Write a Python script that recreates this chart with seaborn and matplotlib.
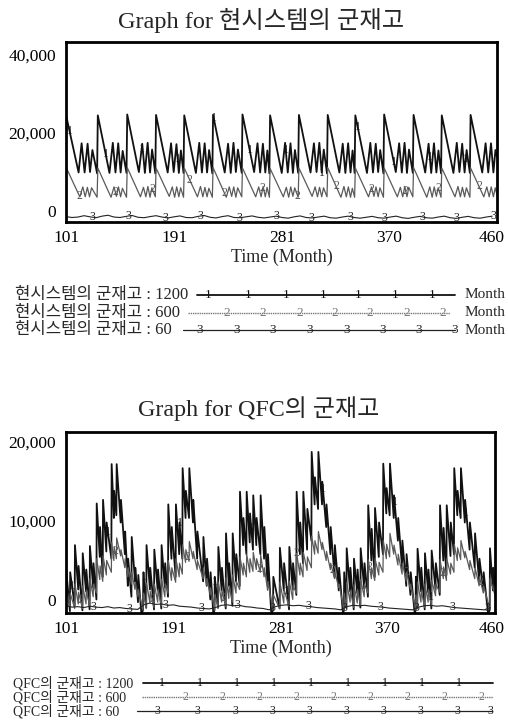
import numpy as np
import matplotlib
matplotlib.use("Agg")
import matplotlib.pyplot as plt
import seaborn as sns
from matplotlib.transforms import ScaledTranslation

# ------------------------------------------------------------------ data
TOP_TITLE = "Graph for 현시스템의 군재고"
BOT_TITLE = "Graph for QFC의 군재고"
X_LABEL = "Time (Month)"
X_TICKS = [101, 191, 281, 370, 460]
TOP_YTICKS = [0, 20000, 40000]
TOP_YLABELS = ["0", "20,000", "40,000"]
BOT_YTICKS = [0, 10000, 20000]
BOT_YLABELS = ["0", "10,000", "20,000"]
TOP_LEGEND = ["현시스템의 군재고 : 1200", "현시스템의 군재고 : 600", "현시스템의 군재고 : 60"]
BOT_LEGEND = ["QFC의 군재고 : 1200", "QFC의 군재고 : 600", "QFC의 군재고 : 60"]
UNIT = "Month"

# top chart, run 1 (vertices of the saw-tooth line)
TOP_S1_T = [101, 111.5, 114, 116.5, 119, 121, 123, 126.9,
            127.5, 137.2, 140, 142.2, 144.5, 146.5, 148.2, 151.4,
            152, 161.7, 164.5, 166.7, 169, 171, 172.7, 175.4,
            176, 185.7, 188.5, 190.7, 193, 195, 196.7, 198.9,
            199.5, 209.2, 212, 214.2, 216.5, 218.5, 220.2, 222.9,
            223.5, 233.2, 236, 238.2, 240.5, 242.5, 244.2, 247.4,
            248, 257.7, 260.5, 262.7, 265, 267, 268.7, 270.4,
            271, 280.7, 283.5, 285.7, 288, 290, 291.7, 294.4,
            295, 304.7, 307.5, 309.7, 312, 314, 315.7, 318.4,
            319, 328.7, 331.5, 333.7, 336, 338, 339.7, 341.4,
            342, 351.7, 354.5, 356.7, 359, 361, 362.7, 365.4,
            366, 375.7, 378.5, 380.7, 383, 385, 386.7, 389.9,
            390.5, 400.2, 403, 405.2, 407.5, 409.5, 411.2, 413.4,
            414, 423.7, 426.5, 428.7, 431, 433, 434.7, 437.4,
            438, 447.7, 450.5, 452.7, 455, 457, 458.7, 460]
TOP_S1_V = [23800, 11000, 17500, 11000, 17400, 11100, 16000, 10800,
            23700, 10900, 17600, 11000, 17500, 11000, 15800, 10900,
            23900, 11100, 17400, 10900, 17600, 11000, 16100, 10800,
            23800, 11000, 17500, 11100, 17300, 10900, 15900, 10900,
            23700, 10900, 17600, 11000, 17500, 11000, 16000, 10800,
            23800, 11000, 17400, 10900, 17600, 11100, 16100, 10900,
            23900, 11100, 17500, 11000, 17400, 11000, 15900, 10800,
            23700, 10900, 17600, 11000, 17500, 10900, 16000, 10900,
            23800, 11000, 17500, 11100, 17600, 11000, 16100, 10800,
            23800, 11000, 17400, 10900, 17500, 11000, 15900, 10900,
            23700, 10900, 17600, 11000, 17400, 11100, 16000, 10800,
            23900, 11100, 17500, 11000, 17600, 10900, 16100, 10900,
            23800, 11000, 17400, 10900, 17500, 11000, 15900, 10800,
            23700, 10900, 17600, 11100, 17400, 11000, 16000, 10900,
            23800, 11000, 17500, 11000, 17500, 11000, 16000, 14500]

# top chart, run 2
TOP_S2_T = [101, 112.5, 115, 117, 118.8, 120.6, 122.3, 126.9,
            127.5, 138.5, 141, 143, 144.7, 146.5, 148, 151.4,
            152, 163, 165.5, 167.5, 169.2, 171, 172.5, 175.4,
            176, 187, 189.5, 191.5, 193.2, 195, 196.5, 198.9,
            199.5, 210.5, 213, 215, 216.7, 218.5, 220, 222.9,
            223.5, 234.5, 237, 239, 240.7, 242.5, 244, 247.4,
            248, 259, 261.5, 263.5, 265.2, 267, 268.5, 270.4,
            271, 282, 284.5, 286.5, 288.2, 290, 291.5, 294.4,
            295, 306, 308.5, 310.5, 312.2, 314, 315.5, 318.4,
            319, 330, 332.5, 334.5, 336.2, 338, 339.5, 341.4,
            342, 353, 355.5, 357.5, 359.2, 361, 362.5, 365.4,
            366, 377, 379.5, 381.5, 383.2, 385, 386.5, 389.9,
            390.5, 401.5, 404, 406, 407.7, 409.5, 411, 413.4,
            414, 425, 427.5, 429.5, 431.2, 433, 434.5, 437.4,
            438, 449, 451.5, 453.5, 455.2, 457, 458.5, 460]
TOP_S2_V = [12200, 5600, 7800, 5600, 7700, 5600, 7600, 5500,
            12000, 5500, 7800, 5700, 7800, 5600, 7500, 5500,
            12100, 5600, 7700, 5600, 7900, 5500, 7600, 5600,
            12000, 5700, 7800, 5500, 7800, 5600, 7600, 5500,
            12000, 5600, 7900, 5600, 7700, 5600, 7500, 5500,
            12100, 5500, 7800, 5700, 7800, 5500, 7600, 5600,
            12000, 5600, 7800, 5600, 7900, 5600, 7700, 5500,
            11900, 5600, 7700, 5500, 7800, 5700, 7600, 5500,
            12000, 5700, 7800, 5600, 7700, 5600, 7600, 5600,
            12100, 5500, 7900, 5600, 7800, 5500, 7500, 5500,
            12000, 5600, 7800, 5700, 7800, 5600, 7600, 5500,
            12000, 5600, 7700, 5600, 7900, 5600, 7700, 5600,
            12100, 5500, 7800, 5500, 7800, 5700, 7600, 5500,
            12000, 5600, 7900, 5600, 7700, 5600, 7600, 5500,
            12000, 5600, 7800, 5600, 7800, 5600, 7600, 6000]

# top chart, run 3 (sampled every 5 months from 101)
TOP_S3_V = [1200, 1000, 1100, 1400, 1150, 950, 1300, 1500, 1100, 1000, 1250, 1450,
            1050, 950, 1200, 1400, 1100, 900, 1150, 1350, 1000, 950, 1250, 1450,
            1050, 900, 1200, 1400, 1000, 950, 1150, 1350, 1050, 900, 1100, 1300,
            1000, 850, 1150, 1350, 1000, 900, 1100, 1300, 950, 850, 1100, 1300,
            1000, 850, 1050, 1250, 950, 850, 1100, 1300, 950, 800, 1050, 1250,
            950, 850, 1100, 1300, 950, 800, 1050, 1250, 950, 850, 1100, 1300]

# bottom chart, run 1: (time of jump, level after jump, level just before next jump)
BOT_S1_EVENTS = [
    (101, 5000, 200), (104.5, 4500, 800), (108.5, 7500, 2600), (111.5, 5200, 300),
    (115, 6600, 2400), (118, 4800, 400), (121, 7400, 2800), (124, 5500, 1500),
    (126.7, 12100, 6200), (129.5, 9500, 4000), (132, 12500, 6800), (135, 10000, 6000),
    (139.2, 16450, 10500), (141.3, 13500, 10800), (143.4, 16450, 10000), (147, 12500, 6500),
    (150.5, 9000, 3000), (153, 6000, 1800), (156, 8400, 3500), (159, 5000, 1200),
    (161.5, 4200, 0), (164.3, 0, 300),
    (165.7, 4500, 600), (168.4, 7500, 2600), (171.5, 5000, 400), (174.9, 7000, 2500),
    (178, 4800, 500), (181, 7500, 2800), (184, 5500, 1800), (186.6, 12000, 6000),
    (189.5, 9500, 4000), (193, 12000, 6500), (196, 10000, 6000), (198.6, 16000, 10500),
    (201.3, 13500, 10500), (204.2, 16000, 10000), (207.5, 12500, 6000), (211, 9000, 3500),
    (216, 8400, 3000), (219, 6000, 1500), (222, 4500, 0), (224.5, 0, 300),
    (225.5, 4000, 600), (228.5, 7300, 2500), (231.5, 5000, 500), (234.9, 8800, 3000),
    (237.5, 5500, 800), (240.5, 8800, 3500), (243.5, 6500, 3000), (246.6, 13400, 7500),
    (249.5, 10500, 6500), (252.2, 13400, 7800), (255, 11000, 7000), (257.7, 13000, 7500),
    (260.5, 10500, 6500), (263.9, 13000, 6000), (267, 9500, 3000), (270, 6500, 0),
    (273, 0, 300),
    (274.5, 4000, 500), (280, 7200, 2500), (283.5, 5500, 400), (287.9, 7300, 2600),
    (291, 5500, 2000), (294, 13400, 6500), (297, 10000, 5500), (299.6, 13400, 7000),
    (303, 11500, 8000), (306.6, 17800, 12000), (309.3, 15000, 11500), (312.2, 17800, 12000),
    (315.5, 14500, 9500), (319, 12000, 6500), (322.5, 9500, 4000), (326, 7500, 2500),
    (329.5, 5000, 0), (333, 0, 300),
    (333.8, 4500, 600), (335.9, 7150, 2400), (339, 5000, 400), (342, 6000, 2200),
    (345, 4800, 600), (347.6, 7150, 2700), (350.8, 5500, 1800), (353.9, 11900, 5800),
    (356.8, 9300, 4000), (359.6, 11600, 6200), (363, 10000, 6500), (366.5, 16500, 11000),
    (369.3, 13800, 10800), (372.1, 16500, 10500), (375.5, 13000, 8000), (379, 10500, 5000),
    (382.5, 8000, 3000), (386, 6500, 2000), (389.5, 4500, 0), (393, 0, 300),
    (393.8, 4000, 500), (395.2, 7100, 2400), (398.3, 5000, 400), (401.4, 6600, 2300),
    (404.3, 4800, 500), (407, 6900, 2600), (410.5, 5500, 2000), (414, 11900, 5800),
    (417, 9400, 4200), (419.6, 11900, 6300), (423, 10000, 6500), (425.9, 16000, 10800),
    (428.7, 13500, 10500), (431.5, 16000, 10000), (435, 12500, 7000), (439, 10000, 5000),
    (443.3, 8800, 3500), (447, 6000, 2500), (450.5, 4500, 0), (454.4, 0, 300),
    (455.8, 7150, 2500), (458.5, 5000, 3000),
]

# bottom chart, run 2
BOT_S2_EVENTS = [
    (101, 3200, 700), (104.5, 2200, 500), (108.5, 3200, 1000), (111.5, 2300, 500),
    (115, 3000, 1000), (118, 2500, 800), (121, 3800, 1800), (124, 3200, 2200),
    (126.7, 6000, 3700), (129.5, 5200, 3500), (132, 6300, 4200), (135, 5800, 4500),
    (139.2, 7800, 5800), (141.3, 7300, 6000), (143.4, 8300, 6300), (147, 7000, 5000),
    (150.5, 6000, 4000), (153, 5000, 3200), (156, 4500, 2600), (159, 3400, 1800),
    (161.5, 2600, 300),
    (165.7, 2200, 500), (168.4, 3300, 1100), (171.5, 2400, 600), (174.9, 3200, 1200),
    (178, 2600, 800), (181, 3700, 1800), (184, 3200, 2200), (186.6, 5800, 3600),
    (189.5, 5000, 3400), (193, 6000, 4000), (196, 5500, 4300), (198.6, 7500, 5600),
    (201.3, 7000, 5700), (204.2, 7900, 6000), (207.5, 6800, 4800), (211, 5800, 3800),
    (216, 5000, 3000), (219, 3800, 2000), (222, 2800, 300),
    (225.5, 2000, 500), (228.5, 3400, 1200), (231.5, 2500, 700), (234.9, 3900, 1600),
    (237.5, 3000, 1200), (240.5, 4200, 2200), (243.5, 3500, 2600), (246.6, 6200, 4200),
    (249.5, 5500, 4000), (252.2, 6500, 4500), (255, 6000, 4600), (257.7, 6700, 4800),
    (260.5, 6000, 4500), (263.9, 6400, 4000), (267, 5000, 2500), (270, 3500, 300),
    (274.5, 2000, 500), (280, 3400, 1100), (283.5, 2600, 700), (287.9, 3500, 1500),
    (291, 3000, 2200), (294, 6600, 4200), (297, 5500, 4000), (299.6, 6700, 4700),
    (303, 6200, 5000), (306.6, 8500, 6500), (309.3, 8000, 6600), (312.2, 9000, 7000),
    (315.5, 7800, 5800), (319, 6800, 4800), (322.5, 5500, 3800), (326, 4500, 2800),
    (329.5, 3200, 300),
    (333.8, 2200, 500), (335.9, 3400, 1200), (339, 2500, 600), (342, 3100, 1100),
    (345, 2600, 800), (347.6, 3700, 1800), (350.8, 3200, 2200), (353.9, 5900, 3800),
    (356.8, 5000, 3600), (359.6, 6000, 4200), (363, 5600, 4500), (366.5, 8000, 6000),
    (369.3, 7600, 6200), (372.1, 8800, 6500), (375.5, 7500, 5300), (379, 6500, 4300),
    (382.5, 5500, 3500), (386, 4500, 2600), (389.5, 3200, 300),
    (393.8, 2000, 500), (395.2, 3400, 1200), (398.3, 2500, 600), (401.4, 3200, 1200),
    (404.3, 2600, 800), (407, 3600, 1900), (410.5, 3200, 2300), (414, 5900, 3800),
    (417, 5100, 3600), (419.6, 6000, 4300), (423, 5500, 4500), (425.9, 7600, 5800),
    (428.7, 7200, 5900), (431.5, 8000, 6100), (435, 6800, 4800), (439, 5800, 3800),
    (443.3, 5000, 3000), (447, 4000, 2200), (450.5, 3000, 500), (455.8, 3800, 2000),
]

# bottom chart, run 3 (sampled every 5 months from 101)
BOT_S3_V = [800, 650, 700, 600, 750, 650, 600, 700, 550, 600, 500, 450,
            400, 900, 1100, 950, 1000, 850, 900, 750, 700, 650, 550, 500,
            450, 600, 850, 900, 800, 850, 700, 650, 550, 500, 350, 700,
            850, 900, 800, 850, 750, 700, 600, 550, 500, 450, 350, 700,
            850, 800, 850, 750, 700, 650, 550, 500, 450, 400, 350, 650,
            800, 850, 750, 800, 700, 600, 550, 500, 450, 400, 350, 600]

# where the run numbers are written on the curves
TOP_MARK_1 = [104, 134, 164, 194, 224, 254, 284, 314, 344, 374, 404, 434]
TOP_MARK_2 = [112, 142, 173, 204, 233, 265, 294, 326, 355, 384, 411, 445]
TOP_MARK_3 = [123, 153, 184, 213, 245, 276, 305, 338, 366, 398, 426, 457]
BOT_MARK_1 = [106, 136, 166, 196, 226, 256, 286, 316, 346, 376, 406, 436]
BOT_MARK_2 = [113, 142, 173, 203, 233, 263, 294, 324, 355, 386, 416, 448]
BOT_MARK_3 = [124, 154, 184, 214, 244, 274, 304, 334, 364, 394, 424, 454]

# ------------------------------------------------------------------ style
sns.set_theme(style="white")
SERIF = ["Liberation Serif", "Noto Sans CJK KR", "DejaVu Sans"]
plt.rcParams["font.family"] = SERIF
plt.rcParams["axes.unicode_minus"] = False

W, H = 508, 727
fig = plt.figure(figsize=(W / 100, H / 100), dpi=100)
fig.patch.set_facecolor("white")

C1, C2, C3 = "#111111", "#5a5a5a", "#222222"
LW1, LW2, LW3 = 1.3, 0.9, 0.8


def events_xy(events, t_end=460):
    xs, ys = [], []
    for i, (t, hi, lo) in enumerate(events):
        xs.append(t)
        ys.append(hi)
        nxt = events[i + 1][0] - 0.25 if i + 1 < len(events) else t_end
        xs.append(nxt)
        ys.append(lo)
    return np.array(xs), np.array(ys)


def draw_series(ax, xs, ys, color, lw, marks, digit):
    sns.lineplot(x=xs, y=ys, ax=ax, color=color, lw=lw, estimator=None,
                 sort=False, legend=False)
    for t in marks:
        ax.text(t, np.interp(t, xs, ys), digit, fontsize=8.5, color=color,
                ha="center", va="center", family=SERIF)


def shift(lab, dx_px, dy_px):
    lab.set_transform(lab.get_transform() +
                      ScaledTranslation(dx_px / 100, dy_px / 100, fig.dpi_scale_trans))


def style_axes(ax, ymax, yticks, ylabels, yoffs, last_dx):
    ax.set_xlim(101, 460)
    ax.set_ylim(0, ymax)
    ax.set_xticks(X_TICKS)
    ax.set_xticklabels([str(v) for v in X_TICKS])
    ax.set_yticks(yticks)
    ax.set_yticklabels(ylabels)
    ax.tick_params(axis="both", length=0, labelsize=12.5, colors="black")
    ax.tick_params(axis="x", pad=5.5)
    ax.tick_params(axis="y", pad=7)
    for sp in ax.spines.values():
        sp.set_visible(True)
        sp.set_color("black")
        sp.set_linewidth(2.0)
    ax.grid(False)
    ax.set_xlabel(X_LABEL, fontsize=13, labelpad=2)
    ax.set_ylabel("")
    for lab, dy in zip(ax.get_yticklabels(), yoffs):
        shift(lab, 0, dy)
    xl = ax.get_xticklabels()
    shift(xl[0], 1, 0)
    shift(xl[-1], last_dx, 0)


# ------------------------------------------------------------------ top chart
ax1 = fig.add_axes([66 / W, 1 - 222 / H, 431 / W, 180 / H])
t_top3 = 101 + 5 * np.arange(len(TOP_S3_V))
draw_series(ax1, np.array(TOP_S1_T), np.array(TOP_S1_V), C1, LW1, TOP_MARK_1, "1")
draw_series(ax1, np.array(TOP_S2_T), np.array(TOP_S2_V), C2, LW2, TOP_MARK_2, "2")
draw_series(ax1, t_top3, np.array(TOP_S3_V), C3, LW3, TOP_MARK_3, "3")
style_axes(ax1, 40000, TOP_YTICKS, TOP_YLABELS, [11, -1, -13], -5)

# ------------------------------------------------------------------ bottom chart
ax2 = fig.add_axes([66 / W, 1 - 613 / H, 429 / W, 181 / H])
bx1, by1 = events_xy(BOT_S1_EVENTS)
bx2, by2 = events_xy(BOT_S2_EVENTS)
t_bot3 = 101 + 5 * np.arange(len(BOT_S3_V))
draw_series(ax2, bx1, by1, C1, LW1, BOT_MARK_1, "1")
draw_series(ax2, bx2, by2, C2, LW2, BOT_MARK_2, "2")
draw_series(ax2, t_bot3, np.array(BOT_S3_V), C3, LW3, BOT_MARK_3, "3")
style_axes(ax2, 20000, BOT_YTICKS, BOT_YLABELS, [13, 2, -10], -3)

# ------------------------------------------------------------------ titles
fig.text(261 / W, 1 - 20 / H, TOP_TITLE, ha="center", va="center", fontsize=17.5)
fig.text(259 / W, 1 - 409 / H, BOT_TITLE, ha="center", va="center", fontsize=17.3)

# ------------------------------------------------------------------ legends
lax = fig.add_axes([0, 0, 1, 1], zorder=-1)
lax.set_xlim(0, W)
lax.set_ylim(H, 0)
lax.axis("off")

styles = [dict(color=C1, lw=1.3, ls="-"),
          dict(color="#777777", lw=1.0, ls=(0, (1, 0.6))),
          dict(color=C3, lw=0.9, ls="-")]

top_rows = [295, 312.5, 330]
top_lines = [(197, 455), (188, 450), (183, 455)]
top_marks = [[208, 248, 286, 323, 358, 395, 432],
             [227, 263, 300, 335, 370, 407, 443],
             [200, 237, 273, 310, 347, 383, 419, 455]]
for i in range(3):
    y = top_rows[i]
    lax.text(15, y, TOP_LEGEND[i], ha="left", va="center", fontsize=12)
    lax.plot(top_lines[i], [y, y], **styles[i])
    for mx in top_marks[i]:
        lax.text(mx, y, str(i + 1), ha="center", va="center", fontsize=9.5,
                 color=styles[i]["color"])
    lax.text(465, y, UNIT, ha="left", va="center", fontsize=11)

bot_rows = [683, 697, 711]
bot_lines = [(143, 493), (142, 493), (137, 492)]
bot_marks = [[162, 200, 237, 274, 311, 348, 385, 422, 459],
             [185, 222, 259, 296, 333, 370, 407, 444, 481],
             [157, 197, 235, 272, 309, 346, 383, 420, 457, 490]]
for i in range(3):
    y = bot_rows[i]
    lax.text(13, y, BOT_LEGEND[i], ha="left", va="center", fontsize=10)
    lax.plot(bot_lines[i], [y, y], **styles[i])
    for mx in bot_marks[i]:
        lax.text(mx, y, str(i + 1), ha="center", va="center", fontsize=8.5,
                 color=styles[i]["color"])

fig.savefig("out.png", dpi=100, facecolor="white")
